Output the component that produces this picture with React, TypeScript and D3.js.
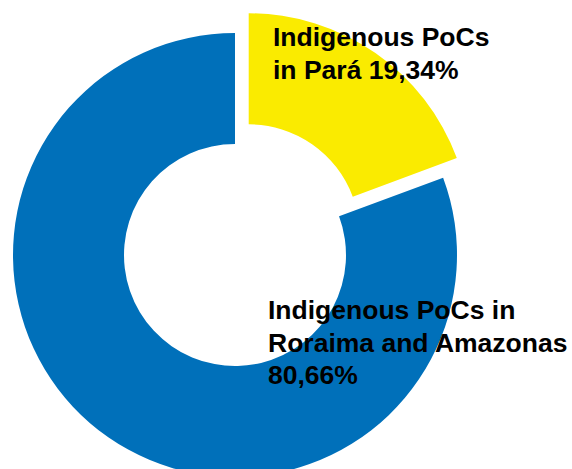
import React, { useEffect, useRef } from "react";
import * as d3 from "d3";

const width = 572;
const height = 469;
const center = { x: 235, y: 255 };
const outerRadius = 222;
const innerRadius = 111;
const explode = 24;

const regions = ["Pará", "Roraima and Amazonas"];
const shares = [19.34, 80.66];
const colors = ["#FAEB00", "#0070BA"];

// label lines and their anchor points (page coords)
const labelLines = [
  ["Indigenous PoCs", "in Pará 19,34%"],
  ["Indigenous PoCs in", "Roraima and Amazonas", "80,66%"],
];
const labelPos = [
  { x: 273, y: 46 },
  { x: 268, y: 319 },
];

export default function App() {
  const ref = useRef<SVGSVGElement | null>(null);

  useEffect(() => {
    const svg = d3.select(ref.current);
    svg.selectAll("*").remove();

    const data = regions.map((r, i) => ({ region: r, value: shares[i], color: colors[i] }));

    const pie = d3.pie<any>()
      .sort(null)
      .value((d) => d.value)
      .startAngle(0)
      .endAngle(2 * Math.PI);

    const arc = d3.arc<any>()
      .innerRadius(innerRadius)
      .outerRadius(outerRadius);

    const g = svg.append("g")
      .attr("transform", "translate(" + center.x + "," + center.y + ")");

    // the Pará slice is pulled out along its bisector
    g.selectAll("path")
      .data(pie(data))
      .enter().append("path")
      .attr("d", arc)
      .attr("fill", (d) => d.data.color)
      .attr("transform", (d, i) => {
        if (i !== 0) return null;
        const mid = (d.startAngle + d.endAngle) / 2;
        return "translate(" + Math.sin(mid) * explode + "," + -Math.cos(mid) * explode + ")";
      });

    labelLines.forEach((lines, i) => {
      const t = svg.append("text")
        .attr("x", labelPos[i].x)
        .attr("y", labelPos[i].y)
        .attr("font-family", "'Liberation Sans', Arial, sans-serif")
        .attr("font-weight", "bold")
        .attr("font-size", 26.5)
        .attr("fill", "#000");
      lines.forEach((line, j) => {
        t.append("tspan")
          .attr("x", labelPos[i].x)
          .attr("dy", j === 0 ? 0 : 32.5)
          .text(line);
      });
    });
  }, []);

  return (
    <svg
      ref={ref}
      width={width}
      height={height}
      style={{ position: "absolute", left: 0, top: 0 }}
    ></svg>
  );
}
